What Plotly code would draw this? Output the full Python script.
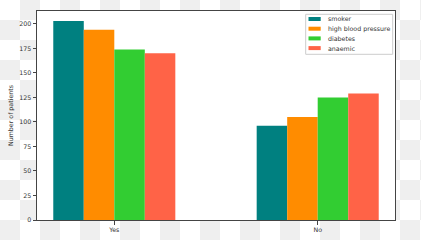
import plotly.graph_objects as go

# ---- data ----
categories = ["Yes", "No"]
series_names = ["smoker", "high blood pressure", "diabetes", "anaemic"]
smoker = [203, 96]
high_blood_pressure = [194, 105]
diabetes = [174, 125]
anaemic = [170, 129]
series_values = [smoker, high_blood_pressure, diabetes, anaemic]
colors = ["#008080", "#FF8C00", "#32CD32", "#FF6347"]
y_ticks = [0, 25, 50, 75, 100, 125, 150, 175, 200]

# ---- layout geometry ----
W, H = 421, 240
L, R, T, B = 37, 26, 11, 20
PW, PH = W - L - R, H - T - B
FONT = "DejaVu Sans"
FS = 6.3
TXT = "#333333"


def px2x(px):
    return (px - L) / PW


def py2y(py):
    return 1 - (py - T) / PH


fig = go.Figure()
for name, vals, col in zip(series_names, series_values, colors):
    fig.add_trace(go.Bar(x=categories, y=vals, name=name, marker_color=col,
                         marker_line_width=0, showlegend=False))

shapes = []
# transparency-style checkerboard background
for i in range(22):
    for j in range(12):
        if (i + j) % 2 == 1:
            x0, x1 = i * 20, min((i + 1) * 20, W)
            y0, y1 = j * 20, min((j + 1) * 20, H)
            shapes.append(dict(type="rect", xref="paper", yref="paper",
                               x0=px2x(x0), x1=px2x(x1), y0=py2y(y1), y1=py2y(y0),
                               fillcolor="#efefef", line_width=0, layer="below"))
# white axes face
shapes.append(dict(type="rect", xref="paper", yref="paper", x0=0, x1=1, y0=0, y1=1,
                   fillcolor="white", line_width=0, layer="below"))

# manual legend (matplotlib style)
annotations = []
shapes.append(dict(type="rect", xref="paper", yref="paper",
                   x0=px2x(305.7), x1=px2x(392.7), y0=py2y(54.3), y1=py2y(14.3),
                   fillcolor="white", line=dict(color="#cccccc", width=1), layer="above"))
for k, (name, col) in enumerate(zip(series_names, colors)):
    cy = 19.0 + 9.7 * k
    shapes.append(dict(type="rect", xref="paper", yref="paper",
                       x0=px2x(308.5), x1=px2x(320.7), y0=py2y(cy + 2), y1=py2y(cy - 2),
                       fillcolor=col, line_width=0, layer="above"))
    annotations.append(dict(xref="paper", yref="paper", x=px2x(326.3), y=py2y(cy),
                            xanchor="left", yanchor="middle", text=name, showarrow=False,
                            font=dict(family=FONT, size=FS, color=TXT)))

fig.update_layout(
    width=W, height=H,
    margin=dict(l=L, r=R, t=T, b=B, pad=0, autoexpand=False),
    paper_bgcolor="white", plot_bgcolor="rgba(0,0,0,0)",
    barmode="group", bargap=0.4, bargroupgap=0,
    font=dict(family=FONT, size=FS, color=TXT),
    shapes=shapes, annotations=annotations,
    showlegend=False,
)
fig.update_xaxes(type="category", range=[-0.38, 1.38], showline=True, mirror=True,
                 linecolor="#444444", linewidth=1, ticks="outside", ticklen=3.5,
                 tickcolor="#444444", showgrid=False, zeroline=False, automargin=False,
                 tickfont=dict(family=FONT, size=FS, color=TXT))
fig.update_yaxes(range=[0, 213.15], tickvals=y_ticks, showline=True, mirror=True,
                 linecolor="#444444", linewidth=1, ticks="outside", ticklen=3.5,
                 tickcolor="#444444", showgrid=False, zeroline=False, automargin=False,
                 tickfont=dict(family=FONT, size=FS, color=TXT),
                 title=dict(text="Number of patients", standoff=5,
                            font=dict(family=FONT, size=FS, color=TXT)))

fig.write_html("out.html")
